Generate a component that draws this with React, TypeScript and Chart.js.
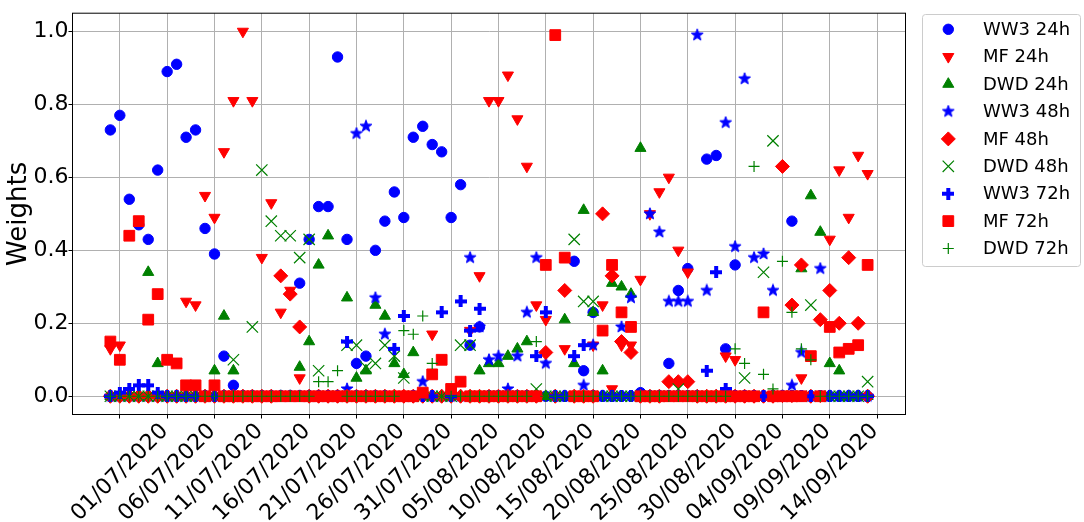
import React, { useEffect, useRef } from 'react';
import { Chart, registerables } from 'chart.js';
import { drawPoint } from 'chart.js/helpers';

Chart.register(...registerables);

// Daily forecasts from 30/06/2020 to 18/09/2020; x is days since 01/07/2020.
const firstDay = -1;

const ww3_24h = [
  0.73, 0.77, 0.54, 0.47, 0.43, 0.62, 0.89, 0.91, 0.71, 0.73,
  0.46, 0.39, 0.11, 0.03, 0, 0, 0, 0, 0, 0,
  0.31, 0.43, 0.52, 0.52, 0.93, 0.43, 0.09, 0.11, 0.4, 0.48,
  0.56, 0.49, 0.71, 0.74, 0.69, 0.67, 0.49, 0.58, 0.14, 0.19,
  0, 0, 0, 0, 0, 0, 0, 0, 0, 0.37,
  0.07, 0.23, 0, 0, 0, 0, 0.01, 0, 0, 0.09,
  0.29, 0.35, 0, 0.65, 0.66, 0.13, 0.36, 0, 0, 0,
  0, 0, 0.48, 0, 0, 0, 0, 0, 0, 0,
  0,
];
const mf_24h = [
  0.13, 0.14, 0, 0, 0, 0, 0, 0, 0.26, 0.25,
  0.55, 0.49, 0.67, 0.81, 1.0, 0.81, 0.38, 0.53, 0.23, 0.29,
  0.05, 0, 0, 0, 0, 0, 0, 0, 0, 0,
  0, 0, 0, 0, 0.17, 0, 0, 0, 0.18, 0.33,
  0.81, 0.81, 0.88, 0.76, 0.63, 0.25, 0.21, 0, 0.13, 0,
  0, 0.14, 0.25, 0.02, 0.14, 0.14, 0.32, 0.5, 0.56, 0.6,
  0.4, 0.34, 0, 0, 0, 0.11, 0.1, 0, 0, 0,
  0, 0, 0, 0.05, 0, 0, 0.43, 0.62, 0.49, 0.66,
  0.61,
];
const dwd_24h = [
  0, 0, 0, 0, 0.34, 0.09, 0, 0, 0, 0,
  0, 0.07, 0.22, 0.07, 0, 0, 0, 0, 0, 0,
  0.08, 0.15, 0.36, 0.44, 0, 0.27, 0.05, 0.07, 0.25, 0.22,
  0.09, 0.06, 0.12, 0, 0, 0, 0, 0, 0, 0.07,
  0.09, 0.09, 0.11, 0.13, 0.15, 0, 0, 0, 0.21, 0.09,
  0.51, 0.23, 0.07, 0.31, 0.3, 0.28, 0.68, 0, 0, 0,
  0, 0, 0, 0, 0, 0, 0, 0, 0, 0,
  0, 0, 0, 0.35, 0.55, 0.45, 0.09, 0.07, 0, 0,
  0,
];
const ww3_48h = [
  0, 0, 0, 0, 0, 0, 0, 0, 0, 0,
  0, 0, 0, 0, 0, 0, 0, 0, 0, 0,
  0, 0, 0, 0, 0, 0.02, 0.72, 0.74, 0.27, 0.17,
  0, 0, 0, 0.04, 0, 0, 0, 0, 0.38, 0.19,
  0.1, 0.11, 0.02, 0.11, 0.23, 0.38, 0.09, 0, 0, 0,
  0.03, 0.14, 0, 0, 0.19, 0.27, 0, 0.5, 0.45, 0.26,
  0.26, 0.26, 0.99, 0.29, 0, 0.75, 0.41, 0.87, 0.38, 0.39,
  0.29, 0, 0.03, 0.12, 0, 0.35, 0, 0, 0, 0,
  0,
];
const mf_48h = [
  0, 0, 0, 0, 0, 0, 0, 0, 0, 0,
  0, 0, 0, 0, 0, 0, 0, 0, 0.33, 0.28,
  0.19, 0, 0, 0, 0, 0, 0, 0, 0, 0,
  0, 0, 0, 0, 0, 0, 0, 0, 0, 0,
  0, 0, 0, 0, 0, 0, 0.12, 0, 0.29, 0,
  0, 0, 0.5, 0.33, 0.15, 0.12, 0, 0, 0, 0.04,
  0.04, 0.04, 0, 0, 0, 0, 0, 0, 0, 0,
  0, 0.63, 0.25, 0.36, 0, 0.21, 0.29, 0.2, 0.38, 0.2,
  0,
];
const dwd_48h = [
  0, 0, 0, 0, 0, 0, 0, 0, 0, 0,
  0, 0, 0, 0.1, 0, 0.19, 0.62, 0.48, 0.44, 0.44,
  0.38, 0.43, 0.07, 0, 0, 0.14, 0.14, 0.08, 0.09, 0.14,
  0.11, 0.05, 0, 0, 0, 0, 0, 0.14, 0.14, 0,
  0, 0, 0, 0, 0, 0.02, 0, 0, 0, 0.43,
  0.26, 0.26, 0, 0, 0, 0, 0, 0, 0, 0,
  0.02, 0, 0, 0, 0, 0, 0, 0.05, 0, 0.34,
  0.7, 0, 0, 0, 0.25, 0, 0, 0, 0, 0,
  0.04,
];
const ww3_72h = [
  0, 0.01, 0.02, 0.03, 0.03, 0.01, 0, 0, 0, 0,
  0, 0, 0, 0, 0, 0, 0, 0, 0, 0,
  0, 0, 0, 0, 0, 0.15, 0, 0, 0, 0,
  0.13, 0.22, 0, 0, 0, 0.23, 0, 0.26, 0.18, 0.24,
  0, 0, 0, 0, 0, 0.11, 0.23, 0, 0, 0.11,
  0.14, 0, 0, 0, 0, 0, 0, 0, 0, 0,
  0, 0, 0, 0.07, 0.34, 0.02, 0, 0, 0, 0,
  0, 0, 0, 0, 0, 0, 0, 0, 0, 0,
  0,
];
const mf_72h = [
  0.15, 0.1, 0.44, 0.48, 0.21, 0.28, 0.1, 0.09, 0.03, 0.03,
  0, 0.03, 0, 0, 0, 0, 0, 0, 0, 0,
  0, 0, 0, 0, 0, 0, 0, 0, 0, 0,
  0, 0, 0, 0.01, 0.06, 0.1, 0.02, 0.04, 0, 0,
  0, 0, 0, 0, 0, 0, 0.36, 0.99, 0.38, 0,
  0, 0, 0.18, 0.36, 0.23, 0.19, 0, 0, 0, 0,
  0, 0, 0, 0, 0, 0, 0, 0, 0, 0.23,
  0, 0, 0, 0, 0.11, 0, 0.19, 0.12, 0.13, 0.14,
  0.36,
];
const dwd_72h = [
  0, 0, 0, 0, 0, 0, 0, 0, 0, 0,
  0, 0, 0, 0, 0, 0, 0, 0, 0, 0,
  0, 0, 0.04, 0.04, 0.07, 0, 0, 0, 0, 0,
  0, 0.18, 0.17, 0.22, 0.09, 0, 0, 0, 0, 0,
  0, 0, 0, 0, 0, 0.15, 0, 0, 0, 0,
  0, 0, 0, 0, 0, 0, 0, 0, 0, 0,
  0, 0, 0, 0, 0, 0, 0.13, 0.09, 0.63, 0.06,
  0.02, 0.37, 0.23, 0.13, 0.1, 0, 0, 0, 0, 0,
  0,
];

const xTickDays = [0, 5, 10, 15, 20, 25, 30, 35, 40, 45, 50, 55, 60, 65, 70, 75, 80];
const xTickLabels = [
  '01/07/2020', '06/07/2020', '11/07/2020', '16/07/2020', '21/07/2020', '26/07/2020',
  '31/07/2020', '05/08/2020', '10/08/2020', '15/08/2020', '20/08/2020', '25/08/2020',
  '30/08/2020', '04/09/2020', '09/09/2020', '14/09/2020',
];
const yTicks = [0, 0.2, 0.4, 0.6, 0.8, 1.0];

const BLUE = '#0000ff';
const RED = '#ff0000';
const GREEN = '#008000';
const FONT = '"DejaVu Sans", "Liberation Sans", sans-serif';

// Filled five-pointed star marker
function makeStar(color: string, size: number): HTMLCanvasElement {
  const c = document.createElement('canvas');
  c.width = size;
  c.height = size;
  const g = c.getContext('2d')!;
  const cx = size / 2;
  const cy = size / 2;
  const R = size / 2 - 0.8;
  const r = R * 0.42;
  g.beginPath();
  for (let k = 0; k < 10; k++) {
    const a = -Math.PI / 2 + (k * Math.PI) / 5;
    const rr = k % 2 === 0 ? R : r;
    g.lineTo(cx + rr * Math.cos(a), cy + rr * Math.sin(a));
  }
  g.closePath();
  g.fillStyle = color;
  g.fill();
  g.lineWidth = 1;
  g.strokeStyle = color;
  g.stroke();
  return c;
}

// Filled (bold) plus marker
function makeBoldPlus(color: string, size: number, arm: number): HTMLCanvasElement {
  const c = document.createElement('canvas');
  c.width = size;
  c.height = size;
  const g = c.getContext('2d')!;
  g.fillStyle = color;
  const o = (size - arm) / 2;
  g.fillRect(o, 0, arm, size);
  g.fillRect(0, o, size, arm);
  return c;
}

const frameBox = {
  id: 'frameBox',
  afterDatasetsDraw(chart: any) {
    const { ctx, chartArea: a } = chart;
    ctx.save();
    ctx.strokeStyle = '#000';
    ctx.lineWidth = 1;
    ctx.strokeRect(a.left, a.top, a.right - a.left, a.bottom - a.top);
    ctx.restore();
  },
};

const sideLegend = {
  id: 'sideLegend',
  afterDraw(chart: any) {
    const ctx = chart.ctx;
    const x0 = 922.5;
    const y0 = 14.5;
    const w = 158;
    const h = 252;
    const rad = 3;
    ctx.save();
    ctx.beginPath();
    ctx.moveTo(x0 + rad, y0);
    ctx.arcTo(x0 + w, y0, x0 + w, y0 + h, rad);
    ctx.arcTo(x0 + w, y0 + h, x0, y0 + h, rad);
    ctx.arcTo(x0, y0 + h, x0, y0, rad);
    ctx.arcTo(x0, y0, x0 + w, y0, rad);
    ctx.closePath();
    ctx.fillStyle = 'rgba(255,255,255,0.8)';
    ctx.fill();
    ctx.strokeStyle = '#cccccc';
    ctx.lineWidth = 1;
    ctx.stroke();
    chart.data.datasets.forEach((ds: any, i: number) => {
      const cy = 29.3 + i * 27.4;
      ctx.fillStyle = ds.backgroundColor;
      ctx.strokeStyle = ds.borderColor;
      ctx.lineWidth = ds.borderWidth;
      drawPoint(
        ctx,
        {
          pointStyle: ds.pointStyle,
          rotation: ds.pointRotation || 0,
          radius: ds.pointRadius,
          borderWidth: ds.borderWidth,
        } as any,
        948.3,
        cy
      );
      ctx.fillStyle = '#000';
      ctx.font = `18px ${FONT}`;
      ctx.textAlign = 'left';
      ctx.textBaseline = 'middle';
      ctx.fillText(ds.label, 983, cy + 1);
    });
    ctx.restore();
  },
};

export default function App() {
  const canvasRef = useRef<HTMLCanvasElement | null>(null);

  useEffect(() => {
    const canvas = canvasRef.current;
    if (!canvas) return;

    const star = makeStar(BLUE, 14);
    const boldPlus = makeBoldPlus(BLUE, 12, 4);

    const series = [
      { label: 'WW3 24h', values: ww3_24h, color: BLUE, style: 'circle', radius: 5.2, border: 1, rot: 0 },
      { label: 'MF 24h', values: mf_24h, color: RED, style: 'triangle', radius: 6.4, border: 1, rot: 180 },
      { label: 'DWD 24h', values: dwd_24h, color: GREEN, style: 'triangle', radius: 6.4, border: 1, rot: 0 },
      { label: 'WW3 48h', values: ww3_48h, color: BLUE, style: star as any, radius: 6, border: 0, rot: 0 },
      { label: 'MF 48h', values: mf_48h, color: RED, style: 'rectRot', radius: 7, border: 1, rot: 0 },
      { label: 'DWD 48h', values: dwd_48h, color: GREEN, style: 'crossRot', radius: 8, border: 1.2, rot: 0 },
      { label: 'WW3 72h', values: ww3_72h, color: BLUE, style: boldPlus as any, radius: 6, border: 0, rot: 0 },
      { label: 'MF 72h', values: mf_72h, color: RED, style: 'rect', radius: 7.6, border: 1, rot: 0 },
      { label: 'DWD 72h', values: dwd_72h, color: GREEN, style: 'cross', radius: 5.5, border: 1.2, rot: 0 },
    ];

    const datasets = series.map((s, i) => ({
      label: s.label,
      data: s.values.map((v, k) => ({ x: firstDay + k, y: v })),
      pointStyle: s.style,
      pointRadius: s.radius,
      pointRotation: s.rot,
      backgroundColor: s.color,
      borderColor: s.color,
      borderWidth: s.border,
      order: series.length - i,
    }));

    const chart = new Chart(canvas, {
      type: 'scatter',
      data: { datasets: datasets as any },
      options: {
        animation: false,
        responsive: false,
        devicePixelRatio: 1,
        events: [],
        layout: { padding: { left: 0, top: 9.5, right: 1084 - 905.5, bottom: 0 } },
        plugins: {
          legend: { display: false },
          tooltip: { enabled: false },
        },
        scales: {
          x: {
            type: 'linear',
            min: -5,
            max: 83,
            afterFit: (scale: any) => {
              scale.height = 522 - 414.5;
            },
            afterBuildTicks: (scale: any) => {
              scale.ticks = xTickDays.map((v) => ({ value: v }));
            },
            grid: {
              color: '#b0b0b0',
              lineWidth: 1,
              tickColor: '#000',
              tickLength: 4,
            },
            border: { display: false },
            ticks: {
              autoSkip: false,
              minRotation: 45,
              maxRotation: 45,
              labelOffset: 45,
              padding: 0,
              color: '#000',
              font: { family: FONT, size: 22 },
              callback: (value: any, index: number) => xTickLabels[index] ?? '',
            },
          },
          y: {
            type: 'linear',
            min: -0.05,
            max: 1.05,
            afterFit: (scale: any) => {
              scale.width = 72.5;
            },
            afterBuildTicks: (scale: any) => {
              scale.ticks = yTicks.map((v) => ({ value: v }));
            },
            grid: {
              color: '#b0b0b0',
              lineWidth: 1,
              tickColor: '#000',
              tickLength: 4,
            },
            border: { display: false },
            ticks: {
              padding: 0,
              color: '#000',
              font: { family: FONT, size: 22 },
              callback: (value: any) => Number(value).toFixed(1),
            },
            title: {
              display: true,
              text: 'Weights',
              color: '#000',
              font: { family: FONT, size: 26 },
              padding: { top: 4, bottom: 0 },
            },
          },
        },
      },
      plugins: [frameBox, sideLegend],
    });

    return () => chart.destroy();
  }, []);

  return (
    <div style={{ position: 'fixed', left: 0, top: 0, width: 1084, height: 522, background: '#fff' }}>
      <canvas ref={canvasRef} width={1084} height={522} style={{ display: 'block' }} />
    </div>
  );
}
